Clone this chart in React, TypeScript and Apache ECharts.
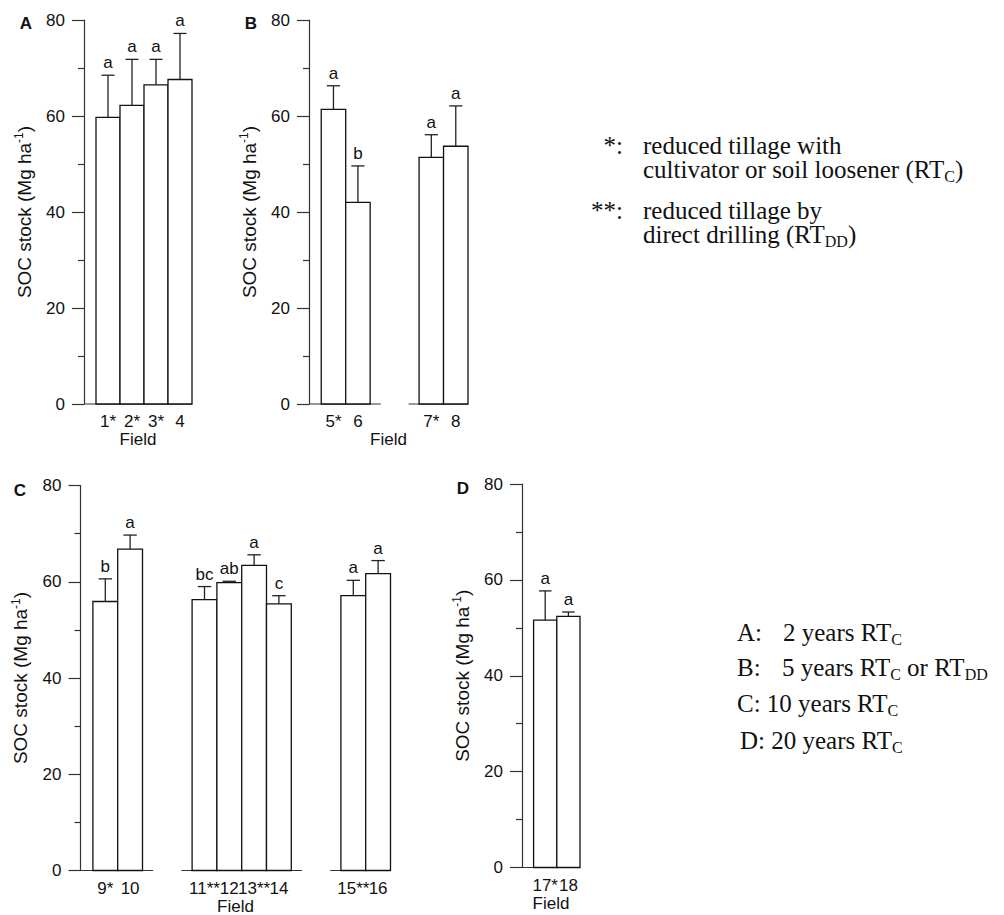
import { useEffect, useRef } from 'react';
import * as echarts from 'echarts';

// ---------------- data ----------------
const fieldsA = ['1*', '2*', '3*', '4'];
const meansA = [59.7, 62.2, 66.5, 67.6];
const errA = [8.8, 9.6, 5.3, 9.6];
const lettersA = ['a', 'a', 'a', 'a'];

// '' marks an empty slot (gap between groups of fields)
const fieldsB = ['5*', '6', '', '', '7*', '8'];
const meansB = [61.4, 42.0, null, null, 51.4, 53.7];
const errB = [4.9, 7.6, null, null, 4.7, 8.4];
const lettersB = ['a', 'b', '', '', 'a', 'a'];

const fieldsC = ['9*', '10', '', '', '11**', '12', '13**', '14', '', '', '15**', '16'];
const meansC = [55.9, 66.8, null, null, 56.3, 59.8, 63.4, 55.4, null, null, 57.1, 61.7];
const errC = [4.7, 2.9, null, null, 2.7, 0.3, 2.2, 1.7, null, null, 3.2, 2.7];
const lettersC = ['b', 'a', '', '', 'bc', 'ab', 'a', 'c', '', '', 'a', 'a'];

const fieldsD = ['17*', '18'];
const meansD = [51.6, 52.4];
const errD = [6.1, 0.9];
const lettersD = ['a', 'a'];

const yTicksMax = 80;
const yInterval = 20;

// ---------------- style / layout ----------------
const SANS = '"Liberation Sans", Arial, Helvetica, sans-serif';
const SERIF = '"Liberation Serif", "Times New Roman", serif';
const AXIS = '#333';
const INK = '#111';

const PANELS = [
  { tag: 'A', fields: fieldsA, means: meansA, errs: errA, letters: lettersA, left: 84, top: 20, width: 108, height: 384, tagX: 26, tagY: 23 },
  { tag: 'B', fields: fieldsB, means: meansB, errs: errB, letters: lettersB, left: 309, top: 20, width: 159, height: 384, tagX: 251, tagY: 23 },
  { tag: 'C', fields: fieldsC, means: meansC, errs: errC, letters: lettersC, left: 80.5, top: 485.5, width: 310, height: 385, tagX: 20, tagY: 490 },
  { tag: 'D', fields: fieldsD, means: meansD, errs: errD, letters: lettersD, left: 522, top: 484, width: 58, height: 383.5, tagX: 463, tagY: 488 },
];

const PAD = 0.43; // baseline overhang in slot units

function segmentsOf(fields: string[]) {
  const runs: number[][] = [];
  let start: number | null = null;
  for (let i = 0; i <= fields.length; i++) {
    const filled = i < fields.length && fields[i] !== '';
    if (filled && start === null) start = i;
    if (!filled && start !== null) {
      runs.push([start, i]);
      start = null;
    }
  }
  // bar i occupies [i + 0.5, i + 1.5]
  return runs.map(([s, e], k) => [
    k === 0 ? 0 : s + 0.5 - PAD,
    e === fields.length ? e + 0.5 : e + 0.5 + PAD,
  ]);
}

function buildOption() {
  const grid = PANELS.map((p) => ({
    left: p.left,
    top: p.top,
    width: p.width,
    height: p.height,
    containLabel: false,
    outerBoundsMode: 'none',
  }));

  const xAxis = PANELS.map((p, gi) => ({
    type: 'value',
    gridIndex: gi,
    min: 0,
    max: p.fields.length + 0.5,
    axisLine: { show: false },
    axisTick: { show: false },
    axisLabel: { show: false },
    splitLine: { show: false },
    name: 'Field',
    nameLocation: 'middle',
    nameGap: 27,
    nameTextStyle: { fontFamily: SANS, fontSize: 17, color: INK, lineHeight: 17 },
  }));

  const yAxis = PANELS.map((p, gi) => ({
    type: 'value',
    gridIndex: gi,
    min: 0,
    max: yTicksMax,
    interval: yInterval,
    axisLine: { show: true, onZero: false, lineStyle: { color: AXIS, width: 1.2 } },
    axisTick: { show: true, length: 12, lineStyle: { color: AXIS, width: 1.2 } },
    minorTick: { show: true, splitNumber: 2, length: 6, lineStyle: { color: AXIS, width: 1.2 } },
    splitLine: { show: false },
    minorSplitLine: { show: false },
    axisLabel: { fontFamily: SANS, fontSize: 17, color: INK, margin: 19 },
    name: '{t|SOC stock (Mg ha}{s|-1}{t|)}',
    nameLocation: 'middle',
    nameRotate: 90,
    nameGap: 49,
    nameMoveOverlap: false,
    nameTextStyle: {
      fontFamily: SANS,
      fontSize: 19,
      color: INK,
      rich: {
        t: { fontFamily: SANS, fontSize: 19, color: INK, lineHeight: 22 },
        s: { fontFamily: SANS, fontSize: 12, color: INK, verticalAlign: 'top', lineHeight: 14 },
      },
    },
  }));

  const series: any[] = [];
  PANELS.forEach((p, gi) => {
    const segs = segmentsOf(p.fields);
    series.push({
      type: 'custom',
      xAxisIndex: gi,
      yAxisIndex: gi,
      clip: false,
      silent: true,
      data: segs,
      renderItem: (_params: any, api: any) => {
        const a = api.coord([api.value(0), 0]);
        const b = api.coord([api.value(1), 0]);
        return {
          type: 'line',
          shape: { x1: a[0], y1: a[1], x2: b[0], y2: b[1] },
          style: { stroke: AXIS, lineWidth: 1.2 },
        };
      },
    });

    const data = p.fields
      .map((f, i) => [i + 1, p.means[i], p.errs[i], i])
      .filter((d) => p.fields[d[3] as number] !== '');

    series.push({
      type: 'custom',
      xAxisIndex: gi,
      yAxisIndex: gi,
      clip: false,
      silent: true,
      z: 3,
      data,
      renderItem: (_params: any, api: any) => {
        const x = api.value(0);
        const m = api.value(1);
        const e = api.value(2);
        const i = api.value(3);
        const p0 = api.coord([x - 0.5, 0]);
        const p1 = api.coord([x + 0.5, m]);
        const top = api.coord([x, m + e]);
        const cap = (p1[0] - p0[0]) * 0.27;
        return {
          type: 'group',
          children: [
            {
              type: 'rect',
              shape: { x: p0[0], y: p1[1], width: p1[0] - p0[0], height: p0[1] - p1[1] },
              style: { fill: '#fff', stroke: INK, lineWidth: 1.3 },
            },
            {
              type: 'line',
              shape: { x1: top[0], y1: p1[1], x2: top[0], y2: top[1] },
              style: { stroke: '#222', lineWidth: 1.3 },
            },
            {
              type: 'line',
              shape: { x1: top[0] - cap, y1: top[1], x2: top[0] + cap, y2: top[1] },
              style: { stroke: '#222', lineWidth: 1.3 },
            },
            {
              type: 'text',
              x: top[0],
              y: top[1] - 4,
              style: {
                text: p.letters[i],
                fill: INK,
                fontFamily: SANS,
                fontSize: 17,
                align: 'center',
                verticalAlign: 'bottom',
              },
            },
            {
              type: 'text',
              x: top[0],
              y: p0[1] + 9,
              style: {
                text: p.fields[i],
                fill: INK,
                fontFamily: SANS,
                fontSize: 17,
                align: 'center',
                verticalAlign: 'top',
              },
            },
          ],
        };
      },
    });
  });

  const rich = {
    n: { fontFamily: SERIF, fontSize: 25, lineHeight: 30, fill: INK },
    sub: { fontFamily: SERIF, fontSize: 16, lineHeight: 16, verticalAlign: 'bottom', fill: INK },
  };
  const legendText = (x: number, y: number, text: string, align = 'left') => ({
    type: 'text',
    x,
    y,
    silent: true,
    style: { text, rich, align, verticalAlign: 'middle', fill: INK, fontFamily: SERIF, fontSize: 25 },
  });

  const graphic: any[] = [
    ...PANELS.map((p) => ({
      type: 'text',
      x: p.tagX,
      y: p.tagY,
      silent: true,
      style: {
        text: p.tag,
        fill: INK,
        fontFamily: SANS,
        fontWeight: 'bold',
        fontSize: 17,
        align: 'center',
        verticalAlign: 'middle',
      },
    })),
    legendText(623, 145, '{n|*:}', 'right'),
    legendText(643, 145, '{n|reduced tillage with}'),
    legendText(643, 169, '{n|cultivator or soil loosener (RT}{sub|C}{n|)}'),
    legendText(623, 210, '{n|**:}', 'right'),
    legendText(643, 210, '{n|reduced tillage by}'),
    legendText(643, 234, '{n|direct drilling (RT}{sub|DD}{n|)}'),
    legendText(737, 632, '{n|A:}'),
    legendText(783, 632, '{n|2 years RT}{sub|C}'),
    legendText(737, 667, '{n|B:}'),
    legendText(782, 667, '{n|5 years RT}{sub|C}{n| or RT}{sub|DD}'),
    legendText(737, 703, '{n|C: 10 years RT}{sub|C}'),
    legendText(740, 740, '{n|D: 20 years RT}{sub|C}'),
  ];

  return {
    animation: false,
    backgroundColor: '#fff',
    grid,
    xAxis,
    yAxis,
    series,
    graphic,
  };
}

export default function App() {
  const ref = useRef<HTMLDivElement>(null);
  useEffect(() => {
    if (!ref.current) return;
    const chart = echarts.init(ref.current, null, { renderer: 'svg' });
    chart.setOption(buildOption() as any);
    return () => chart.dispose();
  }, []);
  return (
    <div
      ref={ref}
      style={{ position: 'fixed', left: 0, top: 0, width: 1004, height: 915, background: '#fff' }}
    />
  );
}
